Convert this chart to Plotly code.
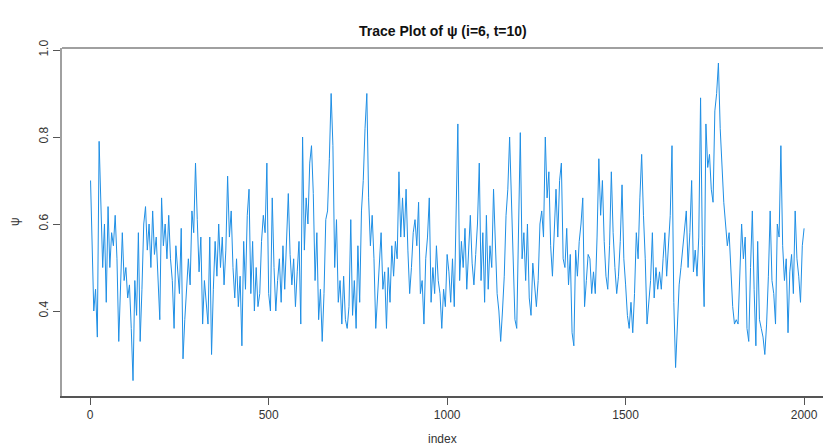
import plotly.graph_objects as go

# MCMC draws of psi (one value every 5 iterations)
psi = [
    0.70, 0.56, 0.40, 0.45, 0.34, 0.79, 0.66, 0.50, 0.60, 0.42,
    0.64, 0.50, 0.58, 0.55, 0.62, 0.52, 0.33, 0.47, 0.58, 0.47,
    0.50, 0.43, 0.46, 0.36, 0.24, 0.47, 0.39, 0.58, 0.33, 0.45,
    0.60, 0.64, 0.54, 0.60, 0.50, 0.63, 0.53, 0.57, 0.48, 0.38,
    0.66, 0.55, 0.60, 0.52, 0.62,
    0.52, 0.47, 0.36, 0.55, 0.49, 0.44, 0.59, 0.29, 0.38, 0.45,
    0.52, 0.46, 0.63, 0.58, 0.74, 0.61, 0.49, 0.57, 0.37, 0.47,
    0.41, 0.37, 0.57, 0.30, 0.45, 0.56, 0.48, 0.60, 0.50, 0.57,
    0.46, 0.54, 0.71, 0.57, 0.63, 0.50, 0.43, 0.52, 0.41, 0.48,
    0.32, 0.56, 0.45, 0.62, 0.68, 0.44, 0.56, 0.40, 0.50, 0.41,
    0.44, 0.56, 0.62, 0.58, 0.74, 0.44,
    0.40, 0.66, 0.50, 0.40, 0.47, 0.52, 0.42, 0.55, 0.45, 0.58,
    0.67, 0.53, 0.46, 0.52, 0.41, 0.49, 0.56, 0.37, 0.80, 0.54,
    0.66, 0.60, 0.74, 0.78, 0.67, 0.47, 0.58, 0.38, 0.45, 0.33,
    0.44, 0.61, 0.63, 0.75, 0.90, 0.78, 0.50, 0.61, 0.42, 0.47,
    0.37, 0.48, 0.38, 0.36, 0.41, 0.61, 0.39, 0.47, 0.36, 0.55,
    0.42, 0.63, 0.70, 0.82, 0.90, 0.66,
    0.55, 0.62, 0.52, 0.36, 0.44, 0.50, 0.58, 0.45, 0.49, 0.36,
    0.50, 0.42, 0.55, 0.48, 0.56, 0.52, 0.72, 0.57, 0.66, 0.57,
    0.68, 0.54, 0.44, 0.50, 0.58, 0.61, 0.55, 0.65, 0.44, 0.47,
    0.37, 0.52, 0.57, 0.66, 0.42, 0.50, 0.44, 0.55, 0.47,
    0.44, 0.36, 0.45, 0.41, 0.53, 0.49, 0.42, 0.52, 0.41, 0.62,
    0.83, 0.47, 0.56, 0.50, 0.59, 0.45, 0.55, 0.62, 0.51, 0.46,
    0.53, 0.60, 0.74, 0.47, 0.58, 0.42, 0.62, 0.45, 0.55, 0.50,
    0.68, 0.57, 0.44, 0.40, 0.33, 0.40, 0.48, 0.62, 0.68, 0.80,
    0.65, 0.47,
    0.38, 0.36, 0.60, 0.81, 0.52, 0.58, 0.47, 0.60, 0.43, 0.39,
    0.51, 0.45, 0.41, 0.47, 0.60, 0.63, 0.57, 0.80, 0.66, 0.72,
    0.55, 0.48, 0.60, 0.68, 0.57, 0.70, 0.74, 0.52, 0.50, 0.59,
    0.46, 0.53, 0.35, 0.32, 0.54, 0.48, 0.56, 0.60, 0.66, 0.41,
    0.47, 0.53,
    0.52, 0.44, 0.49, 0.44, 0.57, 0.75, 0.62, 0.70, 0.56, 0.48,
    0.45, 0.55, 0.72, 0.58, 0.50, 0.44, 0.48, 0.56, 0.69, 0.52,
    0.46, 0.39, 0.36, 0.42, 0.35, 0.44, 0.58, 0.52, 0.66, 0.76,
    0.62, 0.52, 0.37, 0.43, 0.47, 0.58, 0.43, 0.50, 0.45, 0.49,
    0.45, 0.52,
    0.58, 0.48, 0.55, 0.62, 0.78, 0.42, 0.27, 0.36, 0.46, 0.50,
    0.54, 0.58, 0.63, 0.50, 0.58, 0.70, 0.49, 0.54, 0.48, 0.57,
    0.89, 0.55, 0.41, 0.83, 0.73, 0.76, 0.68, 0.65, 0.86, 0.90,
    0.97, 0.82, 0.72, 0.65, 0.60, 0.55, 0.58, 0.48, 0.41, 0.37,
    0.38, 0.37,
    0.47, 0.60, 0.52, 0.57, 0.36, 0.33, 0.50, 0.63, 0.45, 0.32,
    0.56, 0.38, 0.36, 0.34, 0.30, 0.37, 0.48, 0.63, 0.47, 0.44,
    0.37, 0.60, 0.57, 0.78, 0.55, 0.47, 0.52, 0.35, 0.49, 0.53,
    0.44, 0.63, 0.52, 0.48, 0.42, 0.55, 0.59,
]
index = [max(1, 5 * k) for k in range(len(psi))]

x_ticks = [0, 500, 1000, 1500, 2000]
y_ticks = [0.4, 0.6, 0.8, 1.0]
y_tick_text = ["0.4", "0.6", "0.8", "1.0"]

title_text = "Trace Plot of ψ (i=6, t=10)"
x_title = "index"
y_title = "ψ"

fig = go.Figure()
fig.add_trace(go.Scatter(
    x=index, y=psi, mode="lines",
    line=dict(color="#1f8fe5", width=1),
    hoverinfo="skip", showlegend=False,
))

font_family = "Liberation Sans, Arial, sans-serif"

fig.update_layout(
    width=823, height=448,
    margin=dict(l=62, r=0, t=48, b=52),
    paper_bgcolor="white", plot_bgcolor="white",
    font=dict(family=font_family, size=12, color="#333333"),
    xaxis=dict(
        range=[-79, 2053], tickvals=x_ticks, ticks="outside", ticklen=7,
        tickcolor="#555555", tickwidth=1, showgrid=False, zeroline=False,
        showline=True, linecolor="#555555", linewidth=1.5,
        tickfont=dict(size=12, color="#333333"),
    ),
    yaxis=dict(
        range=[0.2046, 1.0046], tickvals=y_ticks, ticktext=y_tick_text,
        ticks="outside", ticklen=7, tickcolor="#555555", tickwidth=1,
        showgrid=False, zeroline=False, showline=True,
        linecolor="#a0a0a0", linewidth=1.5, tickangle=-90,
        tickfont=dict(size=12, color="#333333"),
    ),
    shapes=[dict(type="line", xref="paper", yref="paper", x0=0, x1=1,
                 y0=1, y1=1, line=dict(color="#a0a0a0", width=2))],
    annotations=[
        dict(text="<b>" + title_text + "</b>", xref="paper", yref="paper",
             x=0.5, y=1, yshift=27, showarrow=False,
             font=dict(size=14, color="#111111", family=font_family)),
        dict(text=x_title, xref="paper", yref="paper", x=0.5, y=0,
             yshift=-43, showarrow=False, yanchor="middle",
             font=dict(size=12, color="#333333")),
        dict(text=y_title, xref="paper", yref="paper", x=0, y=0.5,
             xshift=-47, showarrow=False, textangle=-90, xanchor="center",
             font=dict(size=12, color="#333333")),
    ],
)

fig.write_html("out.html")
